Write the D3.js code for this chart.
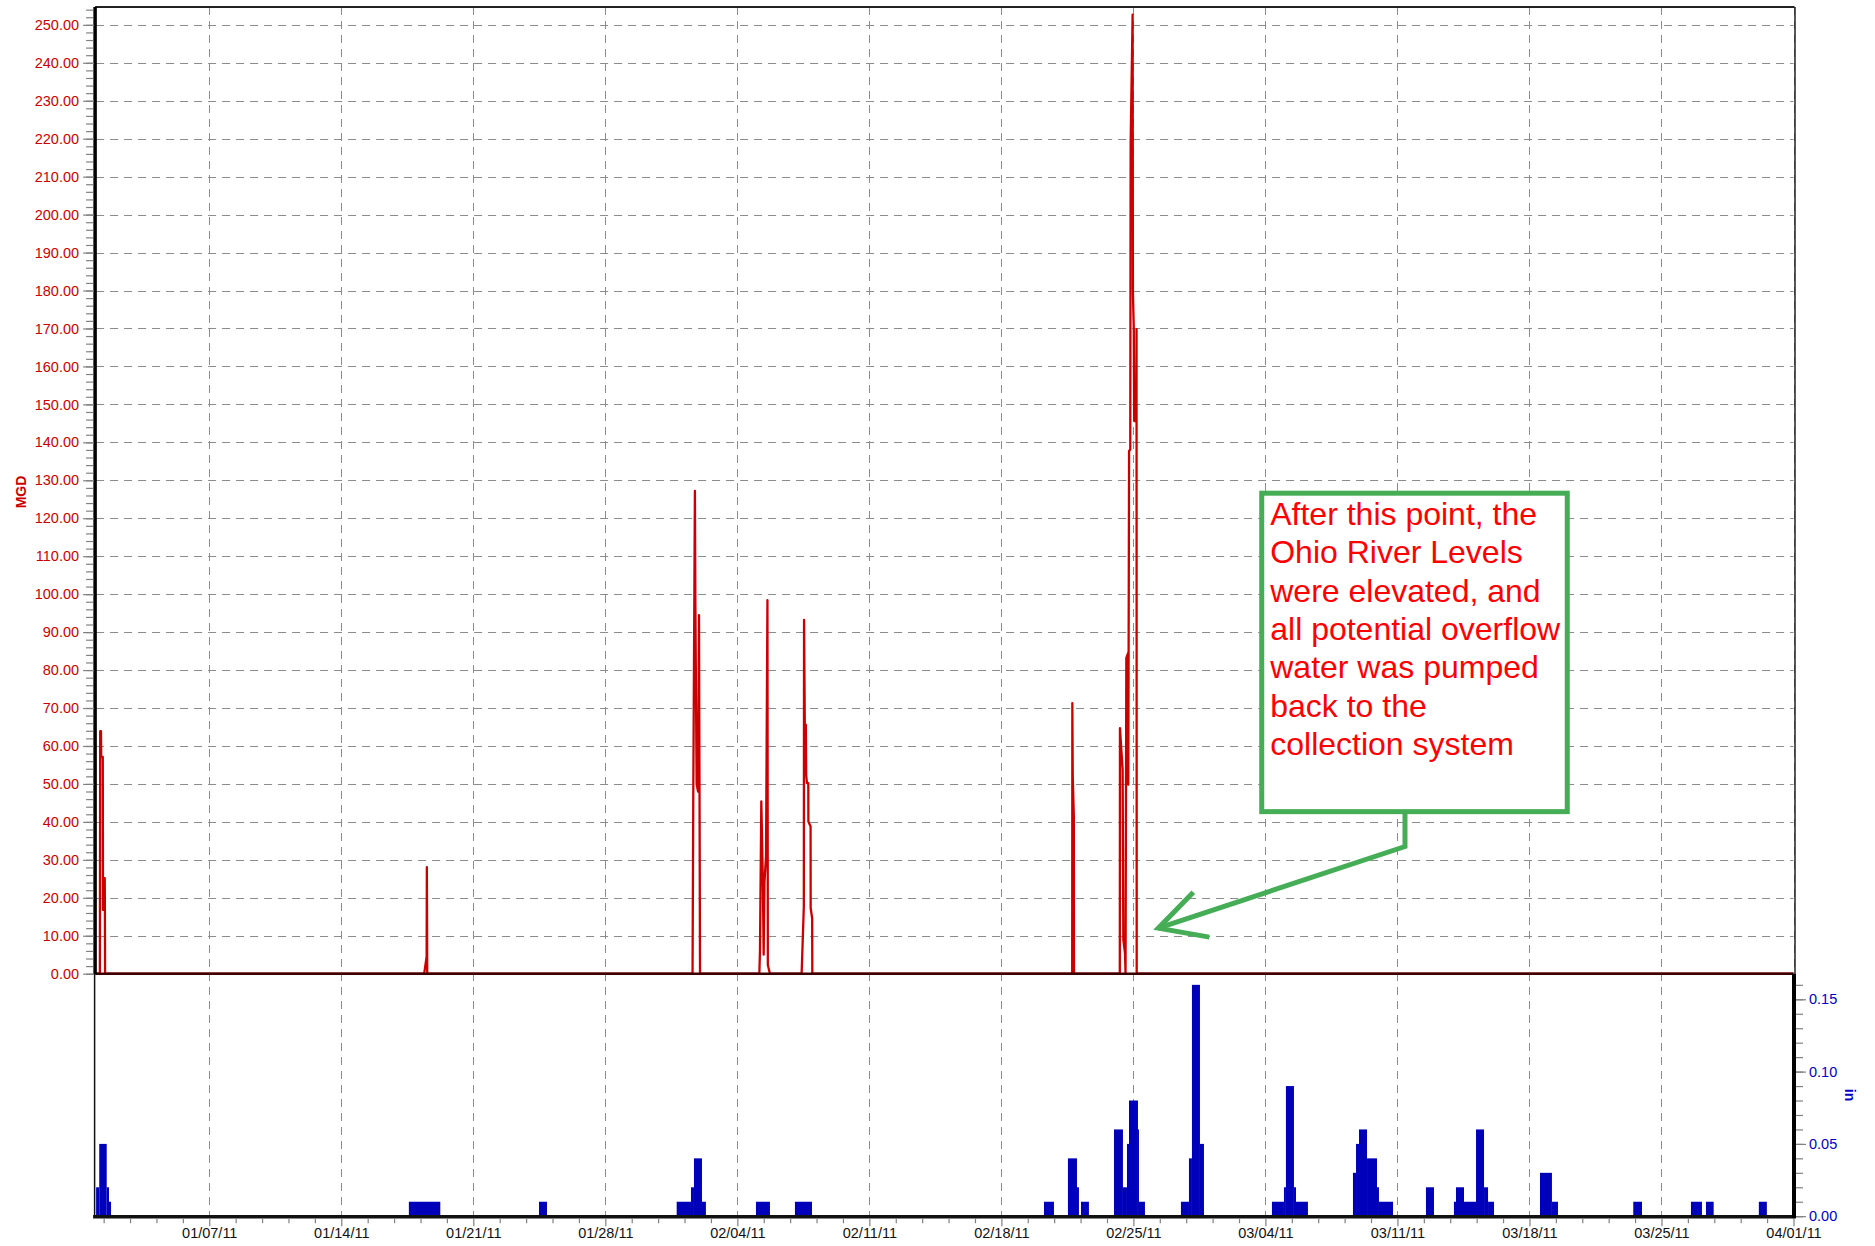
<!DOCTYPE html>
<html>
<head>
<meta charset="utf-8">
<script src="https://cdn.jsdelivr.net/npm/d3@7"></script>
<style>
  body { margin: 0; background: #fff; }
  svg { display: block; }
  text { font-family: "Liberation Sans", Arial, sans-serif; }
</style>
</head>
<body>
<svg id="chart" width="1875" height="1246"></svg>
<script>
// ---------------- DATA ----------------
// Flow (MGD), time in hours since 2011-01-01 00:00
const flowHr = [
  0,
  4.8, 5.2, 6.2, 6.5, 8.5, 8.8, 9.3, 9.6, 11.0, 11.2, 11.4,
  417.5, 420.6, 420.9, 421.4,
  759.0, 760.0, 762.0, 762.6, 764.2, 766.0, 767.2, 768.0, 768.5,
  844.0, 844.8, 846.5, 848.5, 849.5, 850.5, 852.5, 854.3, 854.8, 857.5,
  897.8, 900.6, 900.9, 902.3, 903.2, 903.6, 904.6, 906.3, 906.4, 909.2, 909.3, 911.2, 911.4,
  1242.1, 1242.3, 1242.8, 1244.2, 1244.4,
  1302.7, 1302.9, 1306.3, 1307.2, 1309.3, 1310.0, 1311.0, 1313.3, 1313.5, 1314.5, 1316.0, 1316.5,
  1319.0, 1319.4, 1320.5, 1321.0, 1323.5, 1324.0, 1324.2,
  2160
];
const flowMGD = [
  0,
  0, 63.9, 63.9, 57.1, 57.1, 16.8, 16.8, 25.2, 25.2, 16, 0,
  0, 4.5, 28.1, 0,
  0, 50, 127.2, 97.7, 50, 48, 94.5, 39.2, 0,
  0, 6, 45.4, 24, 5, 24, 31, 98.4, 2.3, 0,
  0, 17.7, 93.2, 52.4, 65.6, 52.4, 50.2, 50.2, 40.1, 38.8, 17.3, 14.6, 0,
  0, 71.3, 52, 41.4, 0,
  0, 64.7, 53.7, 8.9, 5.4, 0, 83.2, 84.5, 49.8, 137.7, 138.1, 218.8,
  252.7, 179.5, 169.8, 145.6, 145.6, 169.8, 0,
  0
];

// Rainfall (in), bars from start hour to end hour
const rainStartHr = [
  0, 4, 13.5, 16.4,
  398, 563.6,
  738.8, 757, 760.8, 771, 839.7, 889.3,
  1206.2, 1236.7, 1248.2, 1253.3,
  1295.3, 1306.7, 1311.8, 1314.4, 1325.8, 1327.1,
  1380.5, 1390.7, 1394.5, 1404.7,
  1496.3, 1511.6, 1514.1, 1524.3, 1526.9,
  1599.4, 1603.3, 1607.1, 1617.3, 1630, 1632.5,
  1692.3,
  1727.9, 1730.5, 1740.7, 1756, 1766.2, 1771.3,
  1837.4, 1852.6,
  1956.1, 2029.5, 2048.6, 2115.9
];
const rainEndHr = [
  4, 13.5, 16.4, 19,
  438, 573.8,
  757, 760.8, 771, 776, 857.5, 911,
  1218.9, 1248.2, 1250.7, 1263.4,
  1306.7, 1311.8, 1314.4, 1325.8, 1327.1, 1334.7,
  1390.7, 1394.5, 1404.7, 1409.8,
  1511.6, 1514.1, 1524.3, 1526.9, 1542.1,
  1603.3, 1607.1, 1617.3, 1630, 1632.5, 1650.4,
  1702.5,
  1730.5, 1740.7, 1756, 1766.2, 1771.3, 1778.9,
  1852.6, 1860.3,
  1967.2, 2043.5, 2058.4, 2126.1
];
const rainIn = [
  0.02, 0.05, 0.02, 0.01,
  0.01, 0.01,
  0.01, 0.02, 0.04, 0.01, 0.01, 0.01,
  0.01, 0.04, 0.02, 0.01,
  0.06, 0.02, 0.05, 0.08, 0.06, 0.01,
  0.01, 0.04, 0.16, 0.05,
  0.01, 0.02, 0.09, 0.02, 0.01,
  0.03, 0.05, 0.06, 0.04, 0.02, 0.01,
  0.02,
  0.01, 0.02, 0.01, 0.06, 0.02, 0.01,
  0.03, 0.01,
  0.01, 0.01, 0.01, 0.01
];

const xTickLabels = ["01/07/11","01/14/11","01/21/11","01/28/11","02/04/11","02/11/11",
  "02/18/11","02/25/11","03/04/11","03/11/11","03/18/11","03/25/11","04/01/11"];
const mgdTicks = d3.range(0, 251, 10);
const inTicks = [0, 0.05, 0.10, 0.15];
const noteLines = ["After this point, the", "Ohio River Levels", "were elevated, and",
  "all potential overflow", "water was pumped", "back to the", "collection system"];
// annotation anchors (hours, MGD)
const noteTip = [1351.7, 12.0];
const noteBox = [1483.3, 126.6, 1872.1, 42.7];   // left hr, top MGD, right hr, bottom MGD
const noteElbow = [1665.6, 33.5];

// ---------------- LAYOUT ----------------
const t0 = Date.UTC(2011, 0, 1);
const hr = h => new Date(t0 + h * 3600e3);
const parseTick = d3.utcParse("%m/%d/%y");

const L = 96.1, R = 1793.5, T = 7, MID = 973.7, B = 1216.2;

const x = d3.scaleUtc().domain([hr(0), hr(2160)]).range([L, R]);
const y = d3.scaleLinear().domain([0, 254.7]).range([MID, T]);
const y2 = d3.scaleLinear().domain([0, 0.1677]).range([B, MID]);

const svg = d3.select("#chart");
const FS = 14.5;

const weekDates = xTickLabels.map(parseTick);

// ---------------- GRID ----------------
const grid = svg.append("g").attr("stroke", "#8c8c8c").attr("stroke-width", 1)
  .attr("stroke-dasharray", "8,6").attr("fill", "none");
grid.selectAll("line.v").data(weekDates).join("line")
  .attr("x1", d => Math.round(x(d)) + 0.5).attr("x2", d => Math.round(x(d)) + 0.5)
  .attr("y1", T).attr("y2", B);
grid.selectAll("line.h").data(mgdTicks.filter(d => d > 0)).join("line")
  .attr("x1", L).attr("x2", R)
  .attr("y1", d => Math.round(y(d)) + 0.5).attr("y2", d => Math.round(y(d)) + 0.5);

// ---------------- RAIN BARS ----------------
const rain = rainIn.map((v, i) => ({ s: hr(rainStartHr[i]), e: hr(rainEndHr[i]), v }));
svg.append("g").attr("fill", "#0000bb").selectAll("rect").data(rain).join("rect")
  .attr("x", d => x(d.s))
  .attr("width", d => Math.max(1, x(d.e) - x(d.s)))
  .attr("y", d => y2(d.v))
  .attr("height", d => y2(0) - y2(d.v));

// ---------------- FLOW LINE ----------------
const flow = flowMGD.map((v, i) => ({ t: hr(flowHr[i]), v }));
svg.append("path").datum(flow)
  .attr("fill", "none").attr("stroke", "#cc0000").attr("stroke-width", 2.3)
  .attr("stroke-linejoin", "round")
  .attr("d", d3.line().x(d => x(d.t)).y(d => y(d.v)));

// ---------------- FRAME ----------------
const frame = svg.append("g").attr("fill", "none");
frame.append("line").attr("x1", L - 1).attr("x2", R + 1).attr("y1", T).attr("y2", T)
  .attr("stroke", "#222").attr("stroke-width", 2);
frame.append("line").attr("x1", R + 1.5).attr("x2", R + 1.5).attr("y1", T).attr("y2", MID)
  .attr("stroke", "#222").attr("stroke-width", 1.5);
frame.append("line").attr("x1", L).attr("x2", R).attr("y1", MID).attr("y2", MID)
  .attr("stroke", "#3a0000").attr("stroke-width", 2.5);
frame.append("line").attr("x1", L - 1).attr("x2", L - 1).attr("y1", T).attr("y2", MID + 1)
  .attr("stroke", "#000").attr("stroke-width", 3.5);
frame.append("line").attr("x1", L - 1.5).attr("x2", L - 1.5).attr("y1", MID).attr("y2", B)
  .attr("stroke", "#111").attr("stroke-width", 1.5);
frame.append("line").attr("x1", L - 3).attr("x2", R + 2).attr("y1", B + 0.5).attr("y2", B + 0.5)
  .attr("stroke", "#111").attr("stroke-width", 3.5);
frame.append("line").attr("x1", R + 0.5).attr("x2", R + 0.5).attr("y1", MID).attr("y2", B + 2)
  .attr("stroke", "#000").attr("stroke-width", 4);

// ---------------- AXES ----------------
function styleAxis(g, color) {
  g.select(".domain").remove();
  g.selectAll(".tick line").attr("stroke", "#808080").attr("stroke-width", 1.2);
  g.selectAll(".tick text").attr("fill", color).attr("font-size", FS)
    .attr("font-family", "'Liberation Sans', Arial, sans-serif");
}

// left minor
svg.append("g").attr("transform", `translate(${L - 3},0)`)
  .call(d3.axisLeft(y).tickValues(d3.range(0, 255, 2)).tickSize(7).tickFormat(""))
  .call(g => styleAxis(g, "#cc0000"));
// left major
svg.append("g").attr("transform", `translate(${L - 2},0)`)
  .call(d3.axisLeft(y).tickValues(mgdTicks).tickSize(11).tickPadding(4).tickFormat(d3.format(".2f")))
  .call(g => styleAxis(g, "#cc0000"));

// right minor
svg.append("g").attr("transform", `translate(${R + 2.5},0)`)
  .call(d3.axisRight(y2).tickValues(d3.range(0, 0.1651, 0.01)).tickSize(7).tickFormat(""))
  .call(g => styleAxis(g, "#0000cc"));
// right major
svg.append("g").attr("transform", `translate(${R + 2.5},0)`)
  .call(d3.axisRight(y2).tickValues(inTicks).tickSize(10).tickPadding(3).tickFormat(d3.format(".2f")))
  .call(g => styleAxis(g, "#0000cc"));

// bottom minor (5 per week)
const dayMs = 86400e3;
const jan7 = parseTick("01/07/11").getTime();
const minorX = d3.range(-4, 61).filter(k => k % 5 !== 0).map(k => new Date(jan7 + k * 1.4 * dayMs))
  .filter(d => d >= hr(0) && d <= hr(2160));
svg.append("g").attr("transform", `translate(0,${B + 2})`)
  .call(d3.axisBottom(x).tickValues(minorX).tickSize(5).tickFormat(""))
  .call(g => styleAxis(g, "#111"));
// bottom major
svg.append("g").attr("transform", `translate(0,${B + 2})`)
  .call(d3.axisBottom(x).tickValues(weekDates).tickSize(8).tickPadding(2)
    .tickFormat((d, i) => xTickLabels[i]))
  .call(g => styleAxis(g, "#111"));

// axis titles
svg.append("text").attr("transform", `translate(25.5,492) rotate(-90)`)
  .attr("text-anchor", "middle").attr("font-weight", "bold").attr("font-size", 14)
  .attr("fill", "#cc0000").text("MGD");
svg.append("text").attr("transform", `translate(1845,1095) rotate(90)`)
  .attr("text-anchor", "middle").attr("font-weight", "bold").attr("font-size", 14)
  .attr("fill", "#0000cc").text("in");

// ---------------- ANNOTATION ----------------
const green = "#45ad56";
const bx0 = x(hr(noteBox[0])), by0 = y(noteBox[1]), bx1 = x(hr(noteBox[2])), by1 = y(noteBox[3]);
const tipX = x(hr(noteTip[0])), tipY = y(noteTip[1]);
const elbX = x(hr(noteElbow[0])), elbY = y(noteElbow[1]);
const ann = svg.append("g");
ann.append("path")
  .attr("d", `M${elbX},${by1} L${elbX},${elbY} L${tipX},${tipY}`)
  .attr("fill", "none").attr("stroke", green).attr("stroke-width", 5);
ann.append("path")
  .attr("d", `M${tipX + 35},${tipY - 36} L${tipX},${tipY} L${tipX + 51},${tipY + 9}`)
  .attr("fill", "none").attr("stroke", green).attr("stroke-width", 5);
ann.append("rect").attr("x", bx0).attr("y", by0).attr("width", bx1 - bx0).attr("height", by1 - by0)
  .attr("fill", "#fff").attr("stroke", green).attr("stroke-width", 5);
ann.append("text").attr("fill", "#ff0000").attr("font-size", 32)
  .selectAll("tspan").data(noteLines).join("tspan")
  .attr("x", bx0 + 8.5).attr("y", (d, i) => by0 + 32 + i * 38.3).text(d => d);
</script>
</body>
</html>
